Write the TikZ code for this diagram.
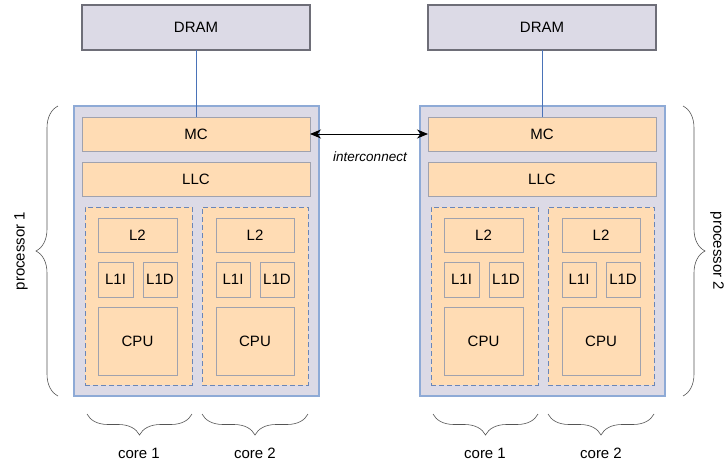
\documentclass[tikz,border=0pt]{standalone}
\usepackage{fontspec}
\setmainfont{Liberation Sans}
\usetikzlibrary{arrows.meta,decorations.pathreplacing}

\definecolor{lav}{HTML}{DCDAE6}
\definecolor{peach}{HTML}{FFDCB4}
\definecolor{edgeblue}{HTML}{8EAAD6}
\definecolor{edgegray}{HTML}{A0A2AE}
\definecolor{dashblue}{HTML}{6A86B8}
\definecolor{linkblue}{HTML}{4A73B8}
\definecolor{dramedge}{HTML}{6E6E78}
\definecolor{bracegray}{HTML}{555555}

\tikzset{
  blk/.style={anchor=north west, inner sep=0pt, outer sep=0pt,
              font=\fontsize{15}{18}\selectfont},
  chip/.style={blk, fill=lav, draw=edgeblue, line width=1.2pt},
  unit/.style={blk, fill=peach, draw=edgegray, line width=1pt},
  corebox/.style={blk, fill=peach, draw=dashblue, dash pattern=on 5pt off 3pt, line width=1pt},
  dram/.style={blk, fill=lav, draw=dramedge, line width=1.2pt},
  curly/.style={decorate, decoration={brace, amplitude=#1}, draw=bracegray, line width=0.6pt},
  lbl/.style={font=\fontsize{15}{18}\selectfont},
  wh/.style 2 args={minimum width=#1pt, minimum height=#2pt},
}

\begin{document}
\begin{tikzpicture}[x=1pt, y=-1pt]
  \fill[white] (0,0) rectangle (725,463);
  \useasboundingbox (0,0) rectangle (725,463);

  % two identical processors, the second shifted right
  \foreach \p/\dx in {1/0, 2/346} {
    \begin{scope}[xshift=\dx pt]
      \node[dram, wh={228}{45}] (dram\p) at (82,5) {DRAM};
      \node[chip, wh={245}{290}] (chip\p) at (74,106) {};
      \node[unit, wh={228}{34}] (mc\p) at (82,117) {MC};
      \node[unit, wh={228}{34}] (llc\p) at (82,162) {LLC};

      % core 1
      \node[corebox, wh={107}{178}] (coreA\p) at (85,207) {};
      \node[unit, wh={79}{34}] (ltwoA\p) at (98,218) {L2};
      \node[unit, wh={35}{35}] (lioneA\p) at (98,262) {L1I};
      \node[unit, wh={34}{35}] (ldoneA\p) at (143,262) {L1D};
      \node[unit, wh={79}{68}] (cpuA\p) at (98,307) {CPU};

      % core 2
      \node[corebox, wh={106}{178}] (coreB\p) at (202,207) {};
      \node[unit, wh={78}{34}] (ltwoB\p) at (216,218) {L2};
      \node[unit, wh={34}{35}] (lioneB\p) at (216,262) {L1I};
      \node[unit, wh={34}{35}] (ldoneB\p) at (260,262) {L1D};
      \node[unit, wh={78}{68}] (cpuB\p) at (216,307) {CPU};

      % memory link
      \draw[linkblue, line width=0.8pt] (dram\p.south) -- (mc\p.north);

      % core braces and labels
      \draw[curly=21pt] ([xshift=0pt,yshift=-29pt]coreA\p.south east)
                     -- ([xshift=2pt,yshift=-29pt]coreA\p.south west);
      \draw[curly=21pt] ([yshift=-29pt]coreB\p.south east)
                     -- ([yshift=-29pt]coreB\p.south west);
      \node[lbl] (coreAlbl\p) at (139,453) {core 1};
      \node[lbl] (coreBlbl\p) at (255,453) {core 2};
    \end{scope}
  }

  % interconnect between the memory controllers
  \draw[line width=0.9pt, {Stealth[length=11pt,width=9pt]}-{Stealth[length=11pt,width=9pt]}]
    (mc1.east) -- (mc2.west);
  \node[font=\itshape\fontsize{13.5}{16}\selectfont] (icon) at (370,157) {interconnect};

  % processor braces
  \draw[curly=22pt] ([xshift=-16pt]chip1.south west) -- ([xshift=-16pt]chip1.north west);
  \node[lbl, rotate=90] (proc1) at (21,251) {processor 1};
  \draw[curly=22pt] ([xshift=18pt]chip2.north east) -- ([xshift=18pt]chip2.south east);
  \node[lbl, rotate=-90] (proc2) at (717,251) {processor 2};
\end{tikzpicture}
\end{document}
